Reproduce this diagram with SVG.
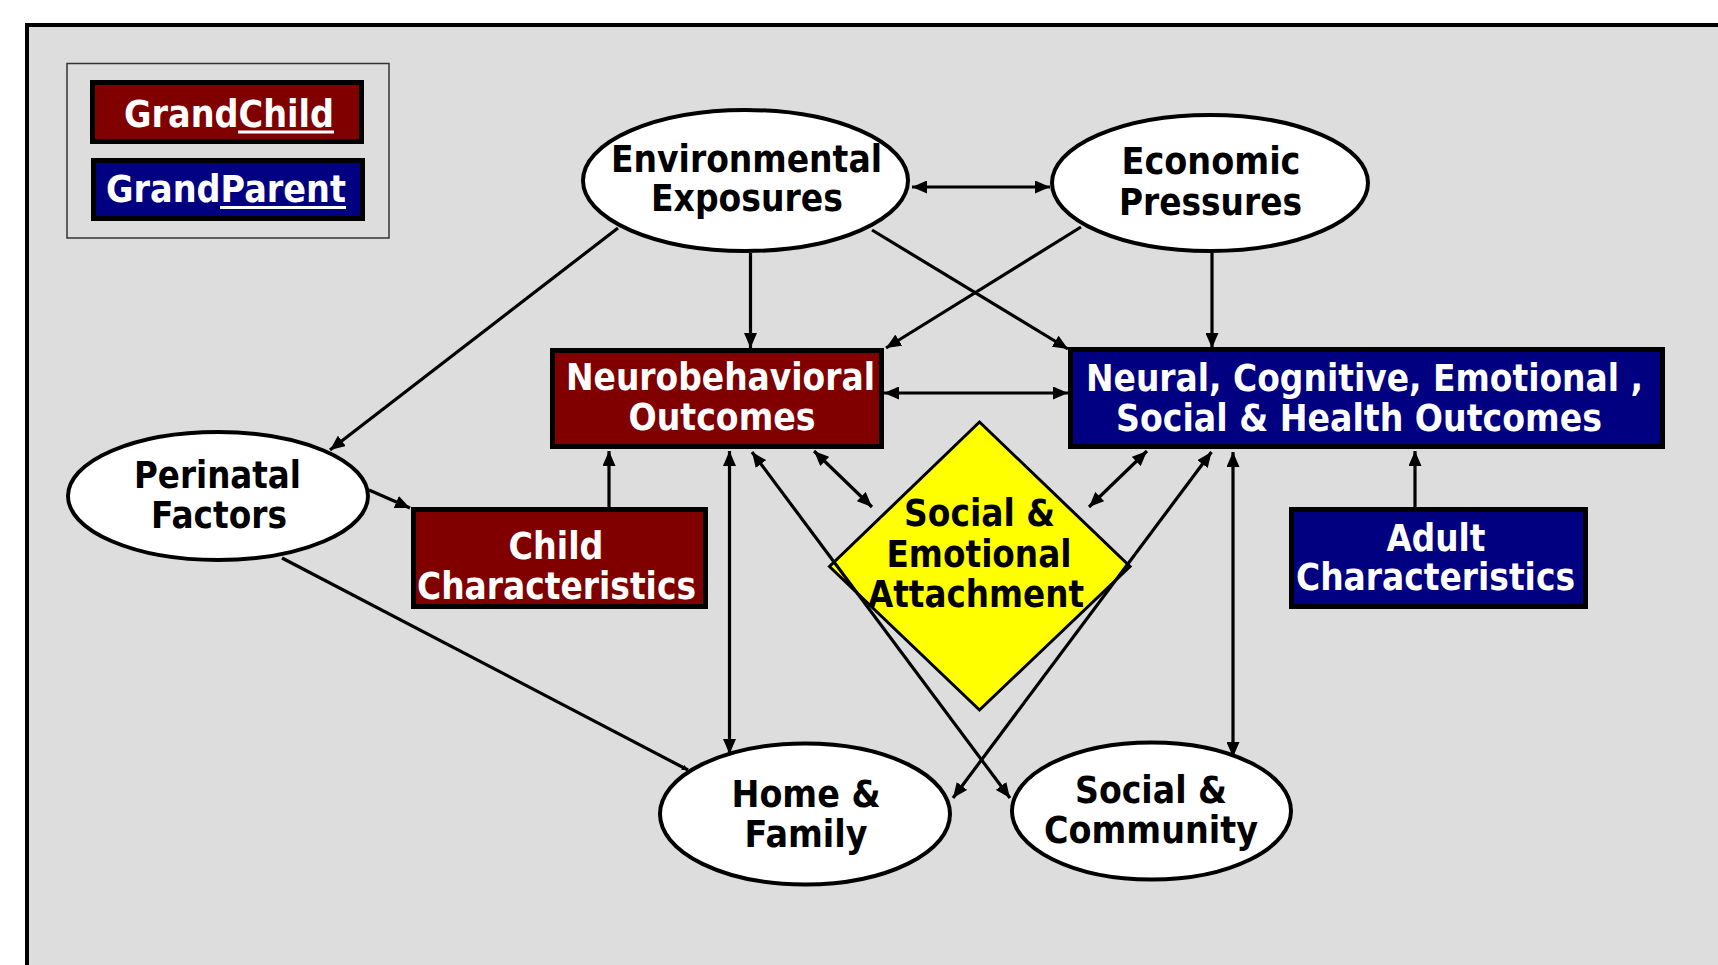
<svg xmlns="http://www.w3.org/2000/svg" width="1718" height="965" viewBox="0 0 1718 965">
  <defs>
    <style>
      .frame { fill: #DDDDDD; stroke: #000000; stroke-width: 4; }
      .legend { fill: none; stroke: #333333; stroke-width: 1.5; }
      .box { stroke: #000000; stroke-width: 5; }
      .child { fill: #800000; }
      .parent { fill: #000080; }
      .oval { fill: #FFFFFF; stroke: #000000; stroke-width: 4; }
      .diamond { fill: #FFFF00; stroke: #000000; stroke-width: 3; }
      .lbl { font-family: "DejaVu Sans", Verdana, sans-serif; font-weight: bold; font-size: 37px; text-anchor: middle; }
      .w { fill: #FFFFFF; }
      .k { fill: #000000; }
      .ul { stroke: #FFFFFF; stroke-width: 3; }
      .conn line { stroke: #000000; stroke-width: 3.2; fill: none; }
    </style>
    <marker id="ah" viewBox="0 0 15 13" refX="15" refY="6.5" markerWidth="15" markerHeight="13" markerUnits="userSpaceOnUse" orient="auto-start-reverse">
      <path d="M0,0 L15,6.5 L0,13 z" fill="#000000"/>
    </marker>
    <marker id="ahs" viewBox="0 0 6 6" refX="6" refY="3" markerWidth="6" markerHeight="6" markerUnits="userSpaceOnUse" orient="auto">
      <path d="M0,0 L6,3 L0,6 z" fill="#000000"/>
    </marker>
  </defs>

  <rect x="0" y="0" width="1718" height="965" fill="#FFFFFF"/>
  <rect class="frame" x="27" y="25" width="1800" height="1000"/>

  <g id="legend">
    <rect class="legend" x="67" y="63.5" width="322" height="174.5"/>
    <rect class="box child" x="92.5" y="82.5" width="269" height="59"/>
    <text class="lbl w" x="229" y="127" textLength="210" lengthAdjust="spacingAndGlyphs">GrandChild</text>
    <line class="ul" x1="238" y1="132" x2="334" y2="132"/>
    <rect class="box parent" x="93.5" y="160.5" width="269" height="58"/>
    <text class="lbl w" x="226" y="202" textLength="240" lengthAdjust="spacingAndGlyphs">GrandParent</text>
    <line class="ul" x1="220" y1="207.5" x2="346" y2="207.5"/>
  </g>

  <g id="environmental">
    <ellipse class="oval" cx="745.5" cy="180.5" rx="162.5" ry="70.5"/>
    <text class="lbl k" x="746.5" y="172" textLength="271" lengthAdjust="spacingAndGlyphs">Environmental</text>
    <text class="lbl k" x="747" y="211" textLength="192" lengthAdjust="spacingAndGlyphs">Exposures</text>
  </g>

  <g id="economic">
    <ellipse class="oval" cx="1210" cy="183" rx="158" ry="68"/>
    <text class="lbl k" x="1211" y="174" textLength="179" lengthAdjust="spacingAndGlyphs">Economic</text>
    <text class="lbl k" x="1210.5" y="215" textLength="183" lengthAdjust="spacingAndGlyphs">Pressures</text>
  </g>

  <g id="neurobehavioral">
    <rect class="box child" x="552.5" y="350.5" width="329" height="96"/>
    <text class="lbl w" x="720.5" y="390" textLength="309" lengthAdjust="spacingAndGlyphs">Neurobehavioral</text>
    <text class="lbl w" x="722" y="430" textLength="187" lengthAdjust="spacingAndGlyphs">Outcomes</text>
  </g>

  <g id="neural">
    <rect class="box parent" x="1070.5" y="349.5" width="592" height="97"/>
    <text class="lbl w" x="1364.5" y="391" textLength="557" lengthAdjust="spacingAndGlyphs">Neural, Cognitive, Emotional ,</text>
    <text class="lbl w" x="1359" y="431" textLength="486" lengthAdjust="spacingAndGlyphs">Social &amp; Health Outcomes</text>
  </g>

  <g id="adult">
    <rect class="box parent" x="1291.5" y="509.5" width="294" height="97"/>
    <text class="lbl w" x="1436" y="551" textLength="99" lengthAdjust="spacingAndGlyphs">Adult</text>
    <text class="lbl w" x="1435.5" y="590" textLength="279" lengthAdjust="spacingAndGlyphs">Characteristics</text>
  </g>

  <g id="perinatal">
    <ellipse class="oval" cx="218" cy="496" rx="150" ry="64"/>
    <text class="lbl k" x="217.5" y="488" textLength="167" lengthAdjust="spacingAndGlyphs">Perinatal</text>
    <text class="lbl k" x="219" y="528" textLength="136" lengthAdjust="spacingAndGlyphs">Factors</text>
  </g>

  <g id="child">
    <rect class="box child" x="413.5" y="509.5" width="292" height="97"/>
    <text class="lbl w" x="556" y="559" textLength="95" lengthAdjust="spacingAndGlyphs">Child</text>
    <text class="lbl w" x="556.5" y="599" textLength="279" lengthAdjust="spacingAndGlyphs">Characteristics</text>
  </g>

  <g id="attachment">
    <polygon class="diamond" points="979.5,422 1130,566.5 979.5,710 829.5,566.5"/>
    <text class="lbl k" x="979.5" y="526" textLength="151" lengthAdjust="spacingAndGlyphs">Social &amp;</text>
    <text class="lbl k" x="979" y="567" textLength="185" lengthAdjust="spacingAndGlyphs">Emotional</text>
    <text class="lbl k" x="976" y="607" textLength="216" lengthAdjust="spacingAndGlyphs">Attachment</text>
  </g>

  <g id="home">
    <ellipse class="oval" cx="805" cy="814" rx="145" ry="70.5"/>
    <text class="lbl k" x="806" y="807" textLength="149" lengthAdjust="spacingAndGlyphs">Home &amp;</text>
    <text class="lbl k" x="806" y="847" textLength="123" lengthAdjust="spacingAndGlyphs">Family</text>
  </g>

  <g id="community">
    <ellipse class="oval" cx="1151.5" cy="811" rx="139.5" ry="68.5"/>
    <text class="lbl k" x="1151" y="803" textLength="152" lengthAdjust="spacingAndGlyphs">Social &amp;</text>
    <text class="lbl k" x="1151" y="843" textLength="214" lengthAdjust="spacingAndGlyphs">Community</text>
  </g>

  <g id="connectors" class="conn">
    <line x1="912" y1="187" x2="1050" y2="187" marker-start="url(#ah)" marker-end="url(#ah)"/>
    <line x1="618" y1="228" x2="330" y2="450" marker-end="url(#ah)"/>
    <line x1="750.5" y1="253" x2="750.5" y2="348" marker-end="url(#ah)"/>
    <line x1="872" y1="230" x2="1068" y2="349" marker-end="url(#ah)"/>
    <line x1="1081" y1="227" x2="886" y2="348" marker-end="url(#ah)"/>
    <line x1="1212" y1="253" x2="1212" y2="348" marker-end="url(#ah)"/>
    <line x1="884" y1="393" x2="1068" y2="393" marker-start="url(#ah)" marker-end="url(#ah)"/>
    <line x1="369" y1="490" x2="410" y2="508" marker-end="url(#ah)"/>
    <line x1="609" y1="507" x2="609" y2="451" marker-end="url(#ah)"/>
    <line x1="729.5" y1="451" x2="729.5" y2="754" marker-start="url(#ah)" marker-end="url(#ah)"/>
    <line x1="282" y1="558" x2="688" y2="770" marker-end="url(#ahs)"/>
    <line x1="814" y1="451" x2="872" y2="507" marker-start="url(#ah)" marker-end="url(#ah)"/>
    <line x1="1147" y1="451" x2="1089" y2="507" marker-start="url(#ah)" marker-end="url(#ah)"/>
    <line x1="752" y1="452" x2="1010" y2="798" marker-start="url(#ah)" marker-end="url(#ah)"/>
    <line x1="1211.5" y1="452" x2="953" y2="798" marker-start="url(#ah)" marker-end="url(#ah)"/>
    <line x1="1233" y1="452" x2="1233" y2="757" marker-start="url(#ah)" marker-end="url(#ah)"/>
    <line x1="1415" y1="507" x2="1415" y2="451" marker-end="url(#ah)"/>
  </g>
</svg>
